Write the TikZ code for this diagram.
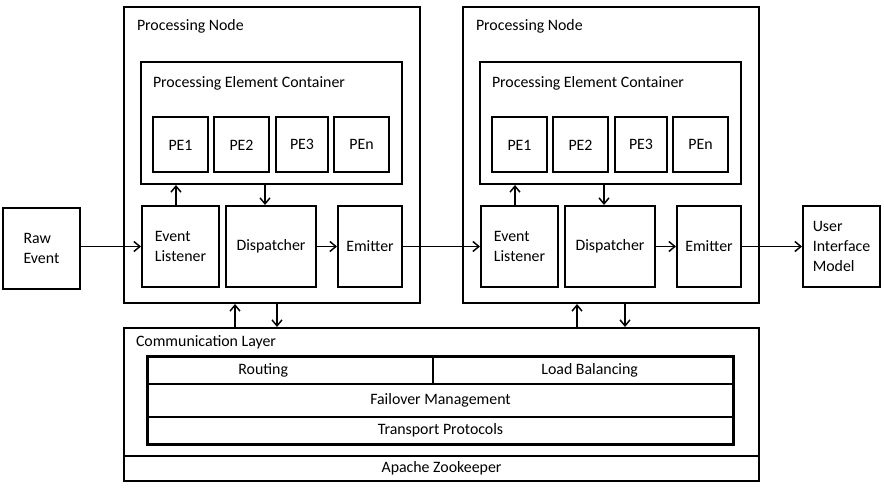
\documentclass[tikz,border=0pt]{standalone}
\usepackage{fontspec}
\setmainfont{Carlito}
\usetikzlibrary{arrows.meta}

\tikzset{every picture/.style={line width=1.5pt}}
\tikzset{
  txt/.style={font=\fontsize{11.9}{15}\selectfont},
  blk/.style={txt, draw, rectangle, inner sep=0pt, align=left},
  side/.style={blk, minimum width=57.75pt, minimum height=60.75pt},
  pe/.style={blk, minimum width=41.25pt, minimum height=41.25pt},
  row/.style={txt, draw, line width=0.8pt, inner sep=0pt, minimum height=20.25pt},
  lbl/.style={txt, anchor=west, inner sep=0pt},
  arr/.style={line width=1.1pt, -{Straight Barb[length=4.5pt,width=7.5pt]}}
}

\begin{document}
\begin{tikzpicture}[x=0.75pt,y=0.75pt,yscale=-1,xscale=1]
\useasboundingbox (0,0) rectangle (884,488);

%Processing Nodes
\node[blk, minimum width=222pt, minimum height=222pt] (nodeA) at (272,155) {};
\node[blk, minimum width=222pt, minimum height=222pt] (nodeB) at (611,155) {};
\node[lbl] (capA) at (136,26) {Processing Node};
\node[lbl] (capB) at (475,26) {Processing Node};

%Processing Element Containers
\node[blk, minimum width=195.75pt, minimum height=91.5pt] (pecA) at (271.5,123) {};
\node[blk, minimum width=195.75pt, minimum height=91.5pt] (pecB) at (610.5,123) {};
\node[lbl] (cappecA) at (152,83) {Processing Element Container};
\node[lbl] (cappecB) at (491,83) {Processing Element Container};

%PEs
\node[pe] (peA1) at (180.5,145) {PE1};
\node[pe] (peA2) at (241.5,145) {PE2};
\node[pe, minimum width=39pt] (peA3) at (302,144.5) {PE3};
\node[pe] (peAn) at (361.5,144.5) {PEn};
\node[pe] (peB1) at (519.5,145) {PE1};
\node[pe] (peB2) at (580.5,145) {PE2};
\node[pe, minimum width=39pt] (peB3) at (641,144.5) {PE3};
\node[pe] (peBn) at (700.5,144.5) {PEn};

%Listener, Dispatcher, Emitter
\node[side] (listenA) at (180.5,246.5) {Event\\Listener};
\node[side, minimum width=67.5pt] (dispA) at (271,246.5) {Dispatcher};
\node[side, minimum width=48pt] (emitA) at (370,246.5) {Emitter};
\node[side] (listenB) at (519.5,246.5) {Event\\Listener};
\node[side, minimum width=67.5pt] (dispB) at (610,246.5) {Dispatcher};
\node[side, minimum width=48pt] (emitB) at (709,246.5) {Emitter};

%Outside boxes
\node[side] (rawevent) at (41.5,248.5) {Raw\\Event};
\node[side] (uimodel) at (841.5,246.5) {User\\Interface\\Model};

%Communication Layer
\node[blk, minimum width=476.25pt, minimum height=96pt] (comm) at (441.5,392) {};
\node[blk, minimum width=476.25pt, minimum height=18.75pt, align=center] (zookeeper) at (441.5,468.5) {Apache Zookeeper};
\node[lbl] (capcomm) at (135,342) {Communication Layer};
\node[row, minimum width=213.75pt] (routing) at (290.5,370.5) {\hspace*{-41pt}Routing};
\node[row, minimum width=225pt] (balance) at (583,370.5) {\hspace*{10pt}Load Balancing};
\node[row, minimum width=438.75pt, minimum height=24.75pt] (failover) at (440.5,400.5) {Failover Management};
\node[row, minimum width=438.75pt] (transport) at (440.5,430.5) {Transport Protocols};
\draw (routing.north west) rectangle (transport.south east);

%Arrows
\draw[arr] (rawevent.east |- listenA.west) -- (listenA.west);
\draw[arr] ([xshift=-3.4pt]listenA.north) -- ([xshift=-3.4pt]listenA.north |- pecA.south);
\draw[arr] ([xshift=-4.5pt]dispA.north |- pecA.south) -- ([xshift=-4.5pt]dispA.north);
\draw[arr] (dispA.east) -- (emitA.west);
\draw[arr] (emitA.east) -- (listenB.west);
\draw[arr] ([xshift=-3.4pt]listenB.north) -- ([xshift=-3.4pt]listenB.north |- pecB.south);
\draw[arr] ([xshift=-4.5pt]dispB.north |- pecB.south) -- ([xshift=-4.5pt]dispB.north);
\draw[arr] (dispB.east) -- (emitB.west);
\draw[arr] (emitB.east) -- (uimodel.west);
\draw[arr] ([xshift=-27.75pt]nodeA.south |- comm.north) -- ([xshift=-27.75pt]nodeA.south);
\draw[arr] ([xshift=3.75pt]nodeA.south) -- ([xshift=3.75pt]nodeA.south |- comm.north);
\draw[arr] ([xshift=-25.5pt]nodeB.south |- comm.north) -- ([xshift=-25.5pt]nodeB.south);
\draw[arr] ([xshift=10.5pt]nodeB.south) -- ([xshift=10.5pt]nodeB.south |- comm.north);
\end{tikzpicture}
\end{document}
